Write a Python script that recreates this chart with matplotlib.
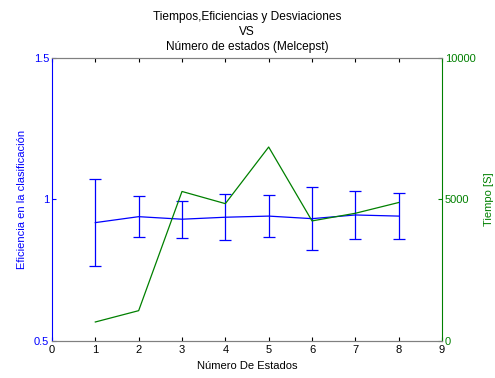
import matplotlib.pyplot as plt

plt.rcParams['font.family'] = ['Liberation Sans', 'DejaVu Sans']
plt.rcParams['font.size'] = 8

estados = [1, 2, 3, 4, 5, 6, 7, 8]
eficiencia = [0.918, 0.939, 0.930, 0.937, 0.941, 0.932, 0.945, 0.941]
desviacion = [0.153, 0.073, 0.065, 0.081, 0.073, 0.111, 0.085, 0.081]
tiempo = [670, 1070, 5280, 4850, 6850, 4240, 4510, 4890]

fig = plt.figure(figsize=(4.95, 3.78), dpi=100)
ax1 = fig.add_axes([0.105, 0.098, 0.788, 0.749])
ax2 = ax1.twinx()

ax1.errorbar(estados, eficiencia, yerr=desviacion, color='#0000ff', linewidth=0.9,
             elinewidth=0.9, capsize=4, capthick=0.9)
ax2.plot(estados, tiempo, color='#008000', linewidth=0.9)

ax1.set_xlim(0, 9)
ax1.set_ylim(0.5, 1.5)
ax1.set_xticks(range(10))
ax1.set_yticks([0.5, 1, 1.5])
ax1.set_yticklabels(['0.5', '1', '1.5'])
ax2.set_ylim(0, 10000)
ax2.set_yticks([0, 5000, 10000])

ax1.set_xlabel('Número De Estados', labelpad=4)
ax1.set_ylabel('Eficiencia en la clasificación', color='#0000ff', labelpad=5)
ax2.set_ylabel('Tiempo [S]', color='#008000', labelpad=6)
ax1.set_title('Tiempos,Eficiencias y Desviaciones\nVS\nNúmero de estados (Melcepst)',
              fontsize=8.6, pad=6, linespacing=1.3)

ax1.tick_params(axis='x', direction='in', top=True, length=3, pad=3)
ax1.tick_params(axis='y', direction='in', colors='#0000ff', length=3, pad=2)
ax2.tick_params(axis='y', direction='in', colors='#008000', length=3, pad=2)

for a in (ax1, ax2):
    a.spines['top'].set_color('#808080')
    a.spines['bottom'].set_color('#808080')
    a.spines['left'].set_visible(False)
    a.spines['right'].set_visible(False)
ax1.spines['left'].set_visible(True)
ax1.spines['left'].set_color('#0000ff')
ax2.spines['right'].set_visible(True)
ax2.spines['right'].set_color('#008000')

fig.savefig('out.png', dpi=100)
